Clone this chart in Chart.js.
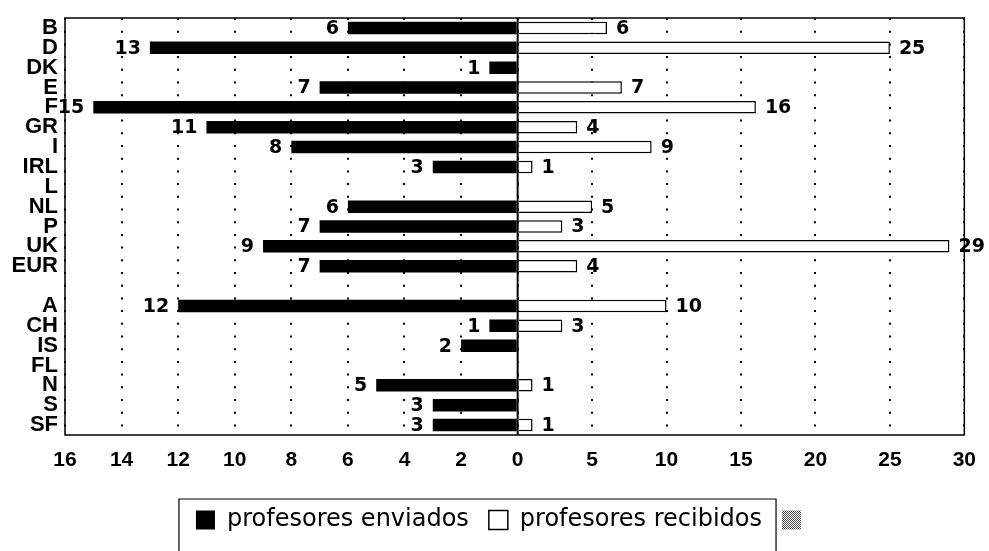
<!DOCTYPE html>
<html>
<head>
<meta charset="utf-8">
<script src="https://cdn.jsdelivr.net/npm/chart.js@4"></script>
<style>
    body { margin: 0; background: #fff; }
    canvas { display: block; }
</style>
</head>
<body>
<canvas id="chart" width="989" height="551"></canvas>
<script>
// Chart data (gap between EUR and A is an empty row)
const categories = ['B', 'D', 'DK', 'E', 'F', 'GR', 'I', 'IRL', 'L', 'NL', 'P', 'UK', 'EUR', '', 'A', 'CH', 'IS', 'FL', 'N', 'S', 'SF'];
const enviados = [6, 13, 1, 7, 15, 11, 8, 3, 0, 6, 7, 9, 7, null, 12, 1, 2, 0, 5, 3, 3];
const recibidos = [6, 25, 0, 7, 16, 4, 9, 1, 0, 5, 3, 29, 4, null, 10, 3, 0, 0, 1, 0, 1];
const leftTicksMax = 16;
const rightTicksMax = 30;

// small grey stipple used for the extra legend square
function stipple() {
    const c = document.createElement('canvas');
    c.width = 2;
    c.height = 2;
    const g = c.getContext('2d');
    g.fillStyle = '#fff';
    g.fillRect(0, 0, 2, 2);
    g.fillStyle = '#444';
    g.fillRect(0, 0, 1, 1);
    g.fillRect(1, 1, 1, 1);
    return g.createPattern(c, 'repeat');
}

// frame, zero line and legend box
const framePlugin = {
    id: 'frame',
    afterDatasetsDraw(chart) {
        const ctx = chart.ctx;
        const a = chart.chartArea;
        const zero = chart.scales.xl.getPixelForValue(0);
        ctx.save();
        ctx.strokeStyle = '#000';
        ctx.lineWidth = 1.5;
        ctx.strokeRect(a.left, a.top, a.right - a.left, a.bottom - a.top);
        ctx.lineWidth = 2;
        ctx.beginPath();
        ctx.moveTo(zero, a.top);
        ctx.lineTo(zero, a.bottom);
        ctx.stroke();
        ctx.restore();
    },
    afterDraw(chart) {
        const ctx = chart.ctx;
        const hb = chart.legend.legendHitBoxes;
        const left = hb[0].left - 17;
        const right = hb[2].left - 6;
        const top = hb[0].top - 9;
        ctx.save();
        ctx.strokeStyle = '#000';
        ctx.lineWidth = 1.2;
        ctx.beginPath();
        ctx.moveTo(left, chart.height);
        ctx.lineTo(left, top);
        ctx.lineTo(right, top);
        ctx.lineTo(right, chart.height);
        ctx.stroke();
        ctx.restore();
    }
};

// numbers at the end of each bar
const valueLabels = {
    id: 'valueLabels',
    afterDraw(chart) {
        const ctx = chart.ctx;
        ctx.save();
        ctx.font = 'bold 19px "DejaVu Sans"';
        ctx.fillStyle = '#000';
        ctx.textBaseline = 'middle';
        [0, 1].forEach(i => {
            const values = chart.data.datasets[i].data;
            chart.getDatasetMeta(i).data.forEach((bar, j) => {
                if (!values[j]) return;
                if (i === 0) {
                    ctx.textAlign = 'right';
                    ctx.fillText(values[j], bar.x - 9, bar.y + 1);
                } else {
                    ctx.textAlign = 'left';
                    ctx.fillText(values[j], bar.x + 9, bar.y + 1);
                }
            });
        });
        ctx.restore();
    }
};

const tickFont = { family: 'Liberation Sans', size: 21, weight: 'bold' };

function xAxis(max, step, weight, reverse) {
    return {
        type: 'linear',
        position: 'bottom',
        stack: 'x',
        stackWeight: weight,
        reverse: reverse,
        min: 0,
        max: max,
        grid: { color: '#000', lineWidth: 2, drawTicks: false },
        border: { display: false, dash: [2, 10.7] },
        ticks: {
            stepSize: step,
            autoSkip: false,
            maxRotation: 0,
            padding: 13,
            color: '#000',
            font: tickFont,
            // the 0 is shown once, by the right axis
            callback: v => (reverse && v === 0) ? '' : v
        },
        afterFit: scale => { scale.height = 53; }
    };
}

new Chart(document.getElementById('chart'), {
    type: 'bar',
    data: {
        labels: categories,
        datasets: [{
            label: 'profesores enviados',
            data: enviados,
            xAxisID: 'xl',
            backgroundColor: '#000',
            borderWidth: 0,
            grouped: false,
            barPercentage: 0.63,
            categoryPercentage: 1
        }, {
            label: 'profesores recibidos',
            data: recibidos,
            xAxisID: 'xr',
            backgroundColor: '#fff',
            borderColor: '#000',
            borderWidth: 1.5,
            grouped: false,
            barPercentage: 0.63,
            categoryPercentage: 1
        }, {
            label: '',
            data: [],
            xAxisID: 'xr',
            backgroundColor: stipple(),
            borderWidth: 0
        }]
    },
    options: {
        indexAxis: 'y',
        responsive: false,
        animation: false,
        layout: { padding: { left: 44, right: 24, top: 9, bottom: 9 } },
        scales: {
            xl: xAxis(leftTicksMax, 2, 453, true),
            xr: xAxis(rightTicksMax, 5, 447, false),
            y: {
                type: 'category',
                grid: { display: false, drawTicks: false },
                border: { display: false },
                ticks: {
                    autoSkip: false,
                    padding: 7,
                    color: '#000',
                    font: { family: 'Liberation Sans', size: 22, weight: 'bold', lineHeight: 1 }
                },
                afterFit: scale => {
                    scale.width = 21;
                    // labels are wider than the axis box, don't clip them
                    scale._computeLabelArea = () => null;
                }
            }
        },
        plugins: {
            tooltip: { enabled: false },
            legend: {
                position: 'bottom',
                labels: {
                    color: '#000',
                    font: { family: 'DejaVu Sans', size: 24 },
                    boxWidth: 19,
                    boxHeight: 19,
                    padding: 20
                }
            }
        }
    },
    plugins: [framePlugin, valueLabels]
});
</script>
</body>
</html>
